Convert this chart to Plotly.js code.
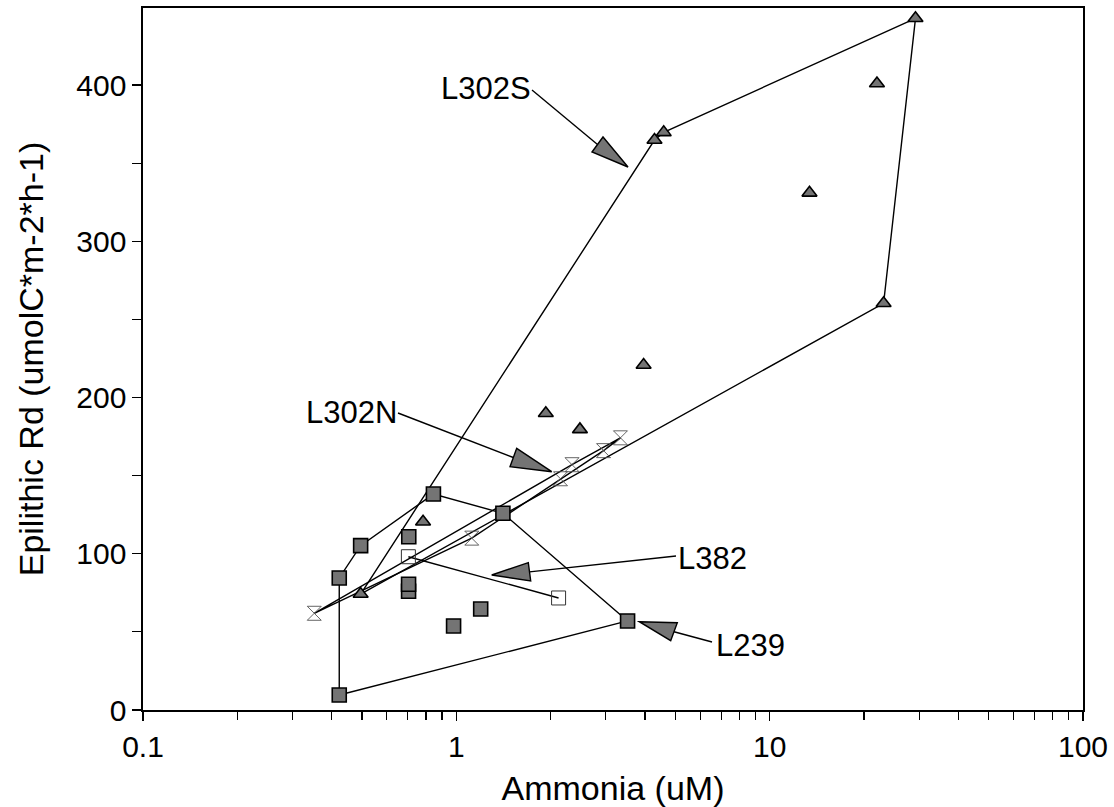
<!DOCTYPE html>
<html>
<head>
<meta charset="utf-8">
<script src="https://cdn.plot.ly/plotly-3.0.1.min.js"></script>
<style>
  html, body { margin: 0; padding: 0; background: #fff; }
  #chart { width: 1114px; height: 807px; }
</style>
</head>
<body>
<div id="chart"></div>
<script>
// Epilithic respiration vs. ammonia, by lake

// L239 (filled squares)
const l239Ammonia = [0.423, 0.423, 0.495, 0.705, 0.704, 0.704, 0.845, 1.408, 1.196, 0.98, 3.52];
const l239Rd      = [9.6, 84.5, 105.2, 110.9, 76, 80.5, 138.2, 125.9, 64.6, 53.8, 57];

// L302S (filled triangles)
const l302sAmmonia = [0.495, 0.783, 1.93, 2.48, 3.96, 4.29, 4.59, 13.4, 22.0, 23.1, 29.2];
const l302sRd      = [74.2, 120.5, 189.9, 179.6, 220.8, 364.8, 369.7, 331, 401, 260.3, 442.7];

// L302N (hourglass symbols)
const l302nAmmonia = [0.352, 1.12, 2.15, 2.34, 2.95, 3.34];
const l302nRd      = [61.9, 110, 148, 157, 166, 174.2];

// L382 (open squares)
const l382Ammonia = [0.703, 2.12];
const l382Rd      = [98.1, 71.7];

// Axis ticks
const xTickVals = [0.1, 1, 10, 100];
const xTickText = ['0.1', '1', '10', '100'];
const yTickVals = [0, 100, 200, 300, 400];
const yTickText = ['0', '100', '200', '300', '400'];

// Minor ticks at 2..9 within each decade
const xMinorVals = [];
[0.1, 1, 10].forEach(d => { for (let k = 2; k <= 9; k++) xMinorVals.push(+(d * k).toPrecision(3)); });

// Convex hull of a group, computed in (log10 x, y) space so it outlines the group as plotted
function hull(xs, ys) {
  const pts = xs.map((x, i) => ({u: Math.log10(x), v: ys[i], x: x, y: ys[i]}))
    .sort((a, b) => a.u - b.u || a.v - b.v);
  if (pts.length < 3) return {x: pts.map(p => p.x), y: pts.map(p => p.y)};
  const cross = (o, a, b) => (a.u - o.u) * (b.v - o.v) - (a.v - o.v) * (b.u - o.u);
  const lower = [], upper = [];
  for (const p of pts) {
    while (lower.length >= 2 && cross(lower[lower.length - 2], lower[lower.length - 1], p) <= 0) lower.pop();
    lower.push(p);
  }
  for (let i = pts.length - 1; i >= 0; i--) {
    const p = pts[i];
    while (upper.length >= 2 && cross(upper[upper.length - 2], upper[upper.length - 1], p) <= 0) upper.pop();
    upper.push(p);
  }
  upper.pop(); lower.pop();
  const ring = lower.concat(upper);
  ring.push(ring[0]);
  return {x: ring.map(p => p.x), y: ring.map(p => p.y)};
}

const lineStyle = {color: '#000', width: 1.4};
const fillGray = '#747474';

function outline(xs, ys, name) {
  const h = hull(xs, ys);
  return {x: h.x, y: h.y, mode: 'lines', line: lineStyle, name: name + ' range', hoverinfo: 'skip', showlegend: false};
}

const traces = [
  outline(l239Ammonia, l239Rd, 'L239'),
  outline(l302sAmmonia, l302sRd, 'L302S'),
  outline(l302nAmmonia, l302nRd, 'L302N'),
  outline(l382Ammonia, l382Rd, 'L382'),
  {x: l302nAmmonia, y: l302nRd, mode: 'markers', name: 'L302N',
   marker: {symbol: 'hourglass-open', size: 14, color: '#555', line: {width: 0.9, color: '#555'}}},
  {x: l382Ammonia, y: l382Rd, mode: 'markers', name: 'L382',
   marker: {symbol: 'square-open', size: 14, color: '#333', line: {width: 1, color: '#333'}}},
  {x: l239Ammonia, y: l239Rd, mode: 'markers', name: 'L239',
   marker: {symbol: 'square', size: 14, color: fillGray, line: {width: 1.6, color: '#000'}}},
  {x: l302sAmmonia, y: l302sRd, mode: 'markers', name: 'L302S',
   marker: {symbol: 'triangle-up', size: 13, color: fillGray, line: {width: 1.6, color: '#000'}}}
];

// Plot box in page pixels, used to place the callout labels and arrows
const box = {left: 143, top: 8, width: 940, height: 702};
const fx = p => (p - box.left) / box.width;
const fy = p => (box.top + box.height - p) / box.height;

// Callout labels with a leader line and a wedge-shaped arrowhead
const callouts = [
  {text: 'L302S', label: [486, 88],  from: [532, 90],  head: [[628, 167], [603, 137], [592, 152]]},
  {text: 'L302N', label: [351, 412], from: [398, 413], head: [[551.7, 471.7], [516.7, 448.3], [510, 466.7]]},
  {text: 'L382',  label: [712, 558], from: [676, 556], head: [[491.7, 575], [528.3, 562.7], [530.7, 581]]},
  {text: 'L239',  label: [750, 645], from: [712, 642], head: [[639.3, 621.7], [677.3, 622.7], [670.7, 640.7]]}
];

const fontFamily = '"Liberation Sans", Arial, Helvetica, sans-serif';
const annotations = [];
const shapes = [];
callouts.forEach(c => {
  annotations.push({
    xref: 'paper', yref: 'paper', x: fx(c.label[0]), y: fy(c.label[1]),
    xanchor: 'center', yanchor: 'middle', showarrow: false,
    text: c.text, font: {family: fontFamily, size: 31, color: '#000'}
  });
  const [tip, b1, b2] = c.head;
  const bm = [(b1[0] + b2[0]) / 2, (b1[1] + b2[1]) / 2];
  shapes.push({
    type: 'line', xref: 'paper', yref: 'paper',
    x0: fx(c.from[0]), y0: fy(c.from[1]), x1: fx(bm[0]), y1: fy(bm[1]),
    line: {color: '#000', width: 1.4}
  });
  shapes.push({
    type: 'path', xref: 'paper', yref: 'paper',
    path: `M${fx(tip[0])},${fy(tip[1])} L${fx(b1[0])},${fy(b1[1])} L${fx(b2[0])},${fy(b2[1])} Z`,
    fillcolor: fillGray, line: {color: '#000', width: 1.4}
  });
});

const layout = {
  width: 1114, height: 807,
  margin: {l: 143, r: 31, t: 8, b: 97, autoexpand: false},
  paper_bgcolor: '#fff', plot_bgcolor: '#fff',
  showlegend: false,
  font: {family: fontFamily, color: '#000'},
  xaxis: {
    type: 'log', range: [-1, 2], automargin: false,
    tickmode: 'array', tickvals: xTickVals, ticktext: xTickText,
    ticks: 'outside', ticklen: 9, tickwidth: 1.3, tickcolor: '#000',
    tickfont: {size: 30, color: '#000'},
    showline: true, linecolor: '#000', linewidth: 1.6, mirror: true,
    showgrid: false, zeroline: false,
    minor: {tickmode: 'array', tickvals: xMinorVals, ticks: 'outside', ticklen: 8, tickwidth: 1.2, tickcolor: '#000', showgrid: false},
    title: {text: 'Ammonia (uM)', font: {size: 34, color: '#000'}, standoff: 14}
  },
  yaxis: {
    range: [0, 449.3], automargin: false,
    tickmode: 'array', tickvals: yTickVals, ticktext: yTickText,
    ticks: 'outside', ticklen: 9, tickwidth: 1.3, tickcolor: '#000',
    tickfont: {size: 30, color: '#000'},
    showline: true, linecolor: '#000', linewidth: 1.6, mirror: true,
    showgrid: false, zeroline: false,
    minor: {dtick: 50, ticks: 'outside', ticklen: 9, tickwidth: 1.2, tickcolor: '#000', showgrid: false},
    title: {text: 'Epilithic Rd (umolC*m-2*h-1)', font: {size: 34, color: '#000'}, standoff: 22}
  },
  annotations: annotations,
  shapes: shapes
};

Plotly.newPlot('chart', traces, layout, {staticPlot: true, displayModeBar: false});
</script>
</body>
</html>
